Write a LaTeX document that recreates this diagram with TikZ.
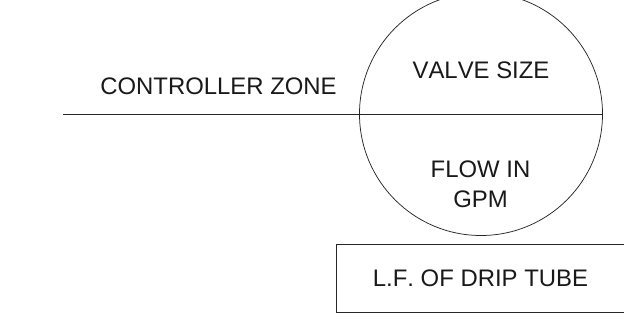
\documentclass[tikz,border=0pt]{standalone}
\usepackage{fontspec}
\setmainfont[Kerning=Off]{Liberation Sans}
\tikzset{ink/.style={draw=black!85,line width=0.75pt},lbl/.style={font=\fontsize{23.9pt}{30pt}\selectfont,text=black!90,inner sep=0pt,align=center}}
\begin{document}
\begin{tikzpicture}[x=1pt,y=-1pt]
\useasboundingbox (0,0) rectangle (624,324);
\begin{scope}
\clip (0,0) rectangle (624,324);
\node[ink,circle,minimum size=243pt,inner sep=0pt] (c) at (481,114) {};
\node[ink,draw,minimum width=292pt,minimum height=67.5pt,inner sep=0pt] (b) at (482,278.5) {};
\end{scope}
\coordinate (ls) at (63,114.5);
\coordinate (le) at (602.5,114.5);
\draw[ink] (ls) -- (le);
\node[lbl] (t1) at (218.5,86) {CONTROLLER ZONE};
\node[lbl] (t2) at (481,70) {VALVE SIZE};
\node[lbl] (t3) at (480.5,184) {FLOW IN\\GPM};
\node[lbl] (t4) at (480.5,278) {L.F. OF DRIP TUBE};
\end{tikzpicture}
\end{document}
